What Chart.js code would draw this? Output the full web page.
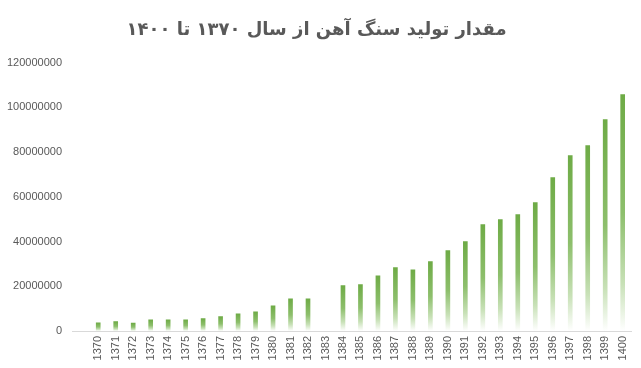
<!DOCTYPE html>
<html>
<head>
<meta charset="utf-8">
<script src="https://cdn.jsdelivr.net/npm/chart.js@4/dist/chart.umd.min.js"></script>
<style>
    body { margin: 0; background: #FFFFFF; }
    #wrap { width: 641px; height: 368px; }
</style>
</head>
<body>
<div id="wrap"><canvas id="chart" width="641" height="368"></canvas></div>
<script>
const years = ["", "1370", "1371", "1372", "1373", "1374", "1375", "1376", "1377", "1378", "1379",
    "1380", "1381", "1382", "1383", "1384", "1385", "1386", "1387", "1388", "1389",
    "1390", "1391", "1392", "1393", "1394", "1395", "1396", "1397", "1398", "1399", "1400"];

const production = [null, 3700000, 4200000, 3500000, 5000000, 5000000, 5000000, 5500000, 6400000, 7700000, 8600000,
    11300000, 14400000, 14400000, null, 20300000, 20700000, 24700000, 28300000, 27400000, 31000000,
    35900000, 40000000, 47600000, 49800000, 52000000, 57400000, 68600000, 78400000, 82900000, 94500000, 105700000];

const yTicks = { min: 0, max: 120000000, step: 20000000 };

const titleText = "مقدار تولید سنگ آهن از سال ۱۳۷۰ تا ۱۴۰۰";

function barGradient(context) {
    const chart = context.chart;
    const { ctx, chartArea, scales } = chart;
    if (!chartArea || context.raw == null) return "#70AD47";
    const top = scales.y.getPixelForValue(context.raw);
    const base = scales.y.getPixelForValue(0);
    const g = ctx.createLinearGradient(0, top, 0, base);
    g.addColorStop(0, "#6EAB46");
    g.addColorStop(0.5, "#8DBF6C");
    g.addColorStop(0.8, "#C8E1B7");
    g.addColorStop(1, "#FFFFFF");
    return g;
}

const chart = new Chart(document.getElementById("chart"), {
    type: "bar",
    data: {
        labels: years,
        datasets: [{
            data: production,
            backgroundColor: barGradient,
            barThickness: 4
        }]
    },
    options: {
        responsive: false,
        animation: false,
        layout: {
            padding: { left: 0, right: 8, top: 0, bottom: 0 }
        },
        plugins: {
            legend: { display: false },
            tooltip: { enabled: false },
            title: {
                display: true,
                text: titleText,
                color: "#595959",
                font: { family: "DejaVu Sans", size: 18, weight: "bold" },
                padding: { top: 20, bottom: 21 }
            }
        },
        scales: {
            x: {
                grid: { display: false, drawTicks: false },
                border: { display: true, color: "#D9D9D9" },
                ticks: {
                    color: "#595959",
                    font: { family: "Liberation Sans", size: 11 },
                    minRotation: 90,
                    maxRotation: 90,
                    padding: 5,
                    autoSkip: false
                },
                afterFit(scale) { scale.height = 37; }
            },
            y: {
                min: yTicks.min,
                max: yTicks.max,
                grid: { display: false, drawTicks: false },
                border: { display: false },
                ticks: {
                    stepSize: yTicks.step,
                    color: "#595959",
                    font: { family: "Liberation Sans", size: 11 },
                    padding: 10,
                    callback: v => String(v)
                },
                afterFit(scale) { scale.width = 72; }
            }
        }
    }
});
</script>
</body>
</html>
